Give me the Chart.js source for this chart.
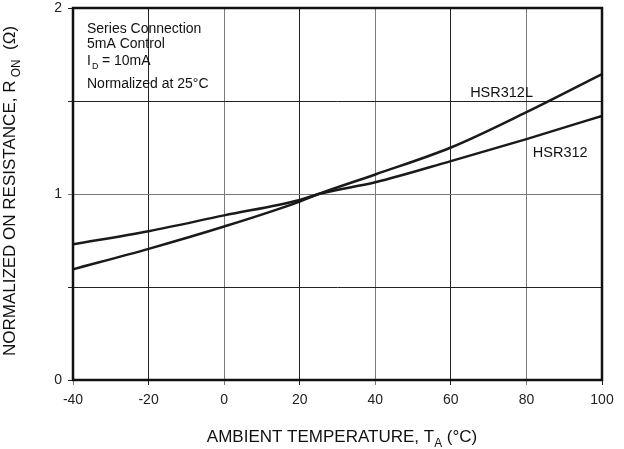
<!DOCTYPE html>
<html>
<head>
<meta charset="utf-8">
<script src="https://cdn.jsdelivr.net/npm/chart.js@4/dist/chart.umd.min.js"></script>
<style>
    body { margin: 0; background: #fff; }
    #wrap { width: 624px; height: 449px; }
</style>
</head>
<body>
<div id="wrap"><canvas id="chart" width="624" height="449"></canvas></div>
<script>
// values
const temps = [-40, -20, 0, 20, 25, 40, 60, 80, 100];
const hsr312 = [0.73, 0.80, 0.885, 0.968, 1.0, 1.063, 1.177, 1.295, 1.42];
const hsr312L = [0.595, 0.705, 0.825, 0.959, 1.0, 1.105, 1.25, 1.44, 1.645];
const xTicks = [-40, -20, 0, 20, 40, 60, 80, 100];
const yTickLabels = [0, 1, 2];

const FONT = "Liberation Sans, Arial, sans-serif";

function toPoints(values) {
    return temps.map((t, i) => ({ x: t, y: values[i] }));
}

// text with a subscript part: [[text, isSub], ...]
function drawRich(ctx, parts, size) {
    let total = 0;
    parts.forEach(([t, sub]) => {
        ctx.font = (sub ? size * 0.7 : size) + "px " + FONT;
        total += ctx.measureText(t).width;
    });
    let x = -total / 2;
    parts.forEach(([t, sub]) => {
        ctx.font = (sub ? size * 0.7 : size) + "px " + FONT;
        ctx.fillText(t, x, sub ? size * 0.3 : 0);
        x += ctx.measureText(t).width;
    });
}

const decorPlugin = {
    id: "decor",
    afterDraw(chart) {
        const ctx = chart.ctx;
        const a = chart.chartArea;
        const xs = chart.scales.x;
        const ys = chart.scales.y;
        ctx.save();

        // frame
        ctx.strokeStyle = "#111";
        ctx.lineWidth = 2.5;
        ctx.strokeRect(a.left, a.top, a.right - a.left, a.bottom - a.top);

        ctx.fillStyle = "#111";
        ctx.textBaseline = "alphabetic";
        ctx.textAlign = "left";

        // condition box
        ctx.font = "14px " + FONT;
        const bx = a.left + 14;
        ctx.fillText("Series Connection", bx, 33);
        ctx.fillText("5mA Control", bx, 48);
        ctx.fillText("I", bx, 65);
        ctx.font = "9px " + FONT;
        ctx.fillText("D", bx + 5, 69);
        ctx.font = "14px " + FONT;
        ctx.fillText(" = 10mA", bx + 11, 65);
        ctx.fillText("Normalized at 25°C", bx, 88);

        // series labels
        ctx.font = "14.5px " + FONT;
        ctx.fillText("HSR312L", xs.getPixelForValue(65.1), ys.getPixelForValue(1.522));
        ctx.fillText("HSR312", xs.getPixelForValue(81.7), ys.getPixelForValue(1.199));

        // axis titles
        ctx.save();
        ctx.translate(342, 442);
        drawRich(ctx, [["AMBIENT TEMPERATURE, T", false], ["A", true], [" (°C)", false]], 17);
        ctx.restore();

        ctx.save();
        ctx.translate(15, 191);
        ctx.rotate(-Math.PI / 2);
        drawRich(ctx, [["NORMALIZED ON RESISTANCE, R", false], [" ON", true], ["  (Ω)", false]], 17);
        ctx.restore();

        ctx.restore();
    }
};

new Chart(document.getElementById("chart"), {
    type: "line",
    data: {
        datasets: [
            {
                label: "HSR312L",
                data: toPoints(hsr312L),
                borderColor: "#1a1a1a",
                borderWidth: 2.5,
                pointRadius: 0,
                cubicInterpolationMode: "monotone",
                fill: false,
            },
            {
                label: "HSR312",
                data: toPoints(hsr312),
                borderColor: "#1a1a1a",
                borderWidth: 2.5,
                pointRadius: 0,
                cubicInterpolationMode: "monotone",
                fill: false,
            },
        ],
    },
    options: {
        responsive: false,
        animation: false,
        devicePixelRatio: 1,
        layout: { padding: { top: 8, right: 22, left: 0, bottom: 0 } },
        plugins: { legend: { display: false }, tooltip: { enabled: false } },
        scales: {
            x: {
                type: "linear",
                min: -40,
                max: 100,
                afterBuildTicks: (s) => { s.ticks = xTicks.map((v) => ({ value: v })); },
                afterFit: (s) => {
                    s.height = 69;
                    s.paddingLeft = 0;
                    s.paddingRight = 0;
                },
                grid: {
                    color: (c) => (c.tick && c.tick.value % 40 === 0 ? "#7a7a7a" : "#222"),
                    lineWidth: 1,
                    tickLength: 5,
                },
                border: { display: false },
                ticks: {
                    color: "#222",
                    font: { family: FONT, size: 14 },
                    padding: 7,
                    maxRotation: 0,
                },
            },
            y: {
                min: 0,
                max: 2,
                ticks: {
                    stepSize: 0.5,
                    color: "#222",
                    font: { family: FONT, size: 14 },
                    padding: 6,
                    callback: (v) => (yTickLabels.includes(v) ? String(v) : ""),
                },
                afterFit: (s) => {
                    s.width = 73;
                    s.paddingTop = 0;
                    s.paddingBottom = 0;
                },
                grid: {
                    color: (c) => (c.tick && c.tick.value === 1 ? "#7a7a7a" : "#222"),
                    lineWidth: 1,
                    tickLength: 5,
                },
                border: { display: false },
            },
        },
    },
    plugins: [decorPlugin],
});
</script>
</body>
</html>
